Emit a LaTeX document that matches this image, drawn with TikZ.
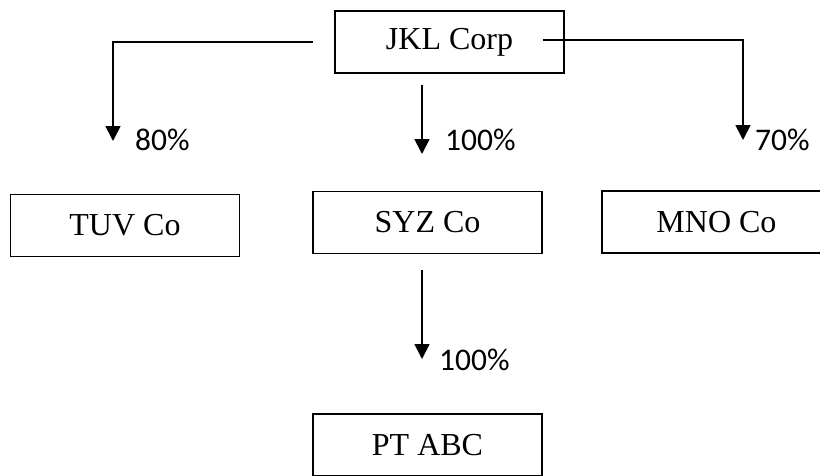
\documentclass[tikz,border=0pt]{standalone}
\usepackage{fontspec}
\setmainfont{Liberation Serif}
\newfontfamily\pctfont{Carlito}
\usetikzlibrary{arrows.meta}

\begin{document}
\begin{tikzpicture}[x=1pt,y=-1pt,
    firm/.style={draw,line width=1.3pt,minimum width=229pt,minimum height=62pt,
      font=\fontsize{32}{38}\selectfont},
    share/.style={anchor=base west,inner sep=0pt,font=\pctfont\fontsize{31.5}{38}\selectfont},
    own/.style={line width=1.7pt,-{Triangle[width=15pt,length=15pt]}}]
  \useasboundingbox (0,0) rectangle (820,475);
  % companies
  \node[firm] (jkl) at (449.5,42)  {JKL Corp};
  \node[firm] (tuv) at (125,225.5) {TUV Co};
  \node[firm] (syz) at (427.5,222.5) {SYZ Co};
  \node[firm] (mno) at (716.5,222) {MNO Co};
  \node[firm] (pt)  at (427.5,445) {PT ABC};
  % free ends of the arrows
  \coordinate (tuvin) at (113,141);
  \coordinate (mnoin) at (743,140);
  \coordinate (syzout) at (422,85);
  \coordinate (syzin) at (422,154);
  \coordinate (ptout) at (422,270);
  \coordinate (ptin) at (422,359);
  \draw[own] ([xshift=-21pt]jkl.west) -| (tuvin);
  \draw[own] ([xshift=-22pt,yshift=2pt]jkl.east) -| (mnoin);
  \draw[own] (syzout) -- (syzin);
  \draw[own] (ptout) -- (ptin);
  % shares
  \node[share] (tuvpct) at (135,150) {80\%};
  \node[share] (syzpct) at (445,150) {100\%};
  \node[share] (mnopct) at (755,150) {70\%};
  \node[share] (ptpct)  at (439,370) {100\%};
\end{tikzpicture}
\end{document}
